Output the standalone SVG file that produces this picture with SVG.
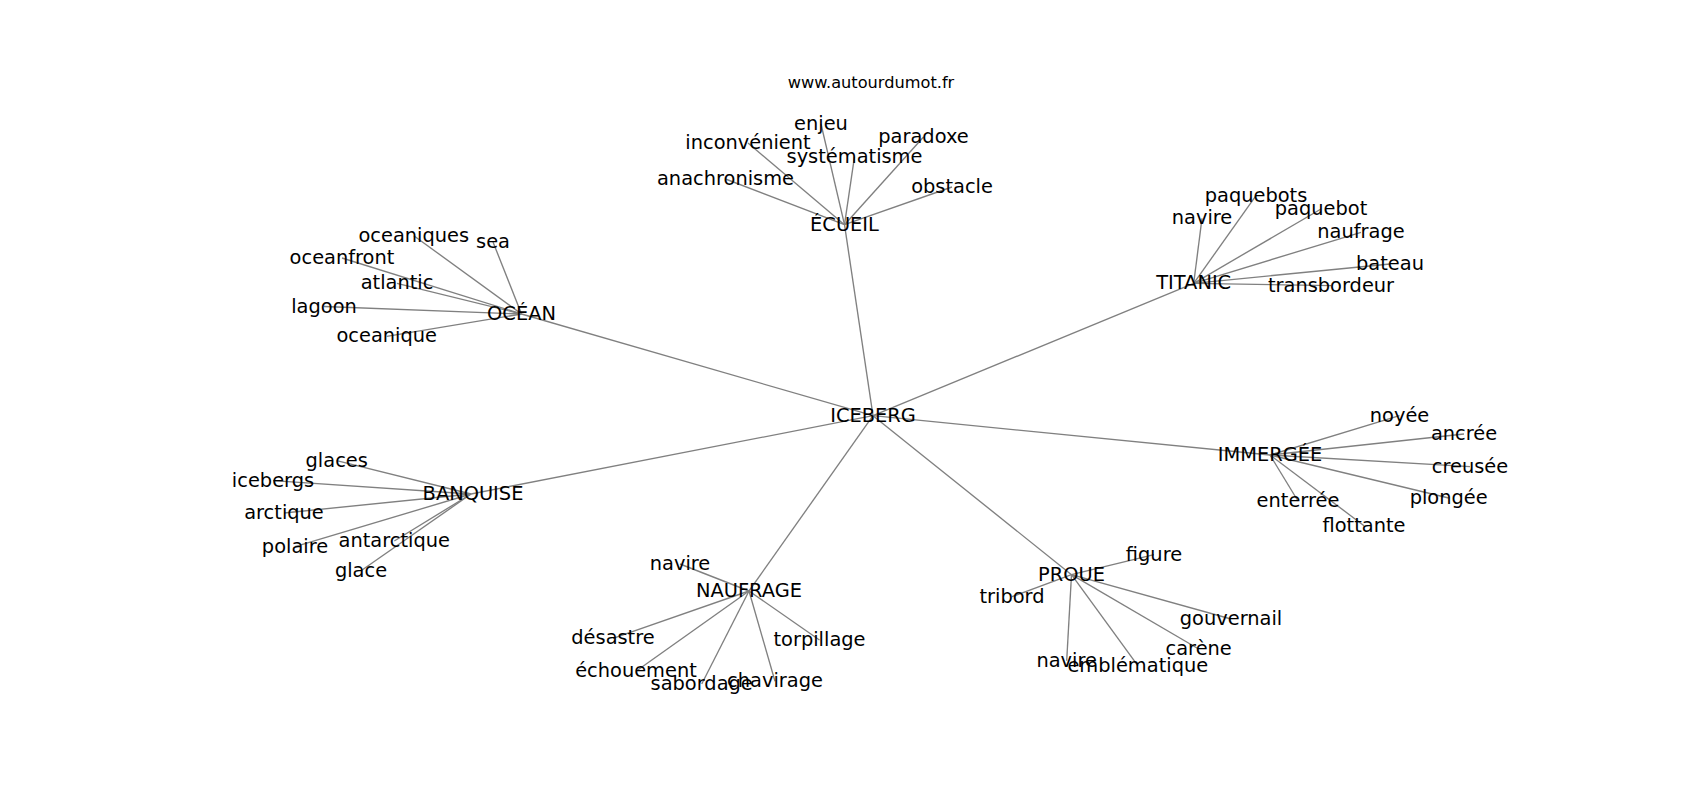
<svg xmlns="http://www.w3.org/2000/svg" width="1700" height="800" viewBox="0 0 1700 800">
<style>
.e{stroke:#808080;stroke-width:1.35;fill:none}
.l{font-family:"DejaVu Sans","Liberation Sans",sans-serif;font-size:19.4px;fill:#000;text-anchor:middle}
.t{font-family:"DejaVu Sans","Liberation Sans",sans-serif;font-size:16.2px;fill:#000;text-anchor:middle}
</style>
<rect width="1700" height="800" fill="#fff"/>
<text class="t" x="871" y="88">www.autourdumot.fr</text>
<g id="connectors">
<line class="e" x1="873" y1="415.7" x2="844.5" y2="224.7"/>
<line class="e" x1="873" y1="415.7" x2="521.5" y2="314"/>
<line class="e" x1="873" y1="415.7" x2="1193.7" y2="283.3"/>
<line class="e" x1="873" y1="415.7" x2="1270" y2="455"/>
<line class="e" x1="873" y1="415.7" x2="471" y2="494"/>
<line class="e" x1="873" y1="415.7" x2="749" y2="591"/>
<line class="e" x1="873" y1="415.7" x2="1071.5" y2="574.7"/>
<line class="e" x1="844.5" y1="224.7" x2="821" y2="124"/>
<line class="e" x1="844.5" y1="224.7" x2="748" y2="143"/>
<line class="e" x1="844.5" y1="224.7" x2="854.5" y2="156.7"/>
<line class="e" x1="844.5" y1="224.7" x2="923.5" y2="137"/>
<line class="e" x1="844.5" y1="224.7" x2="725.5" y2="179"/>
<line class="e" x1="844.5" y1="224.7" x2="952" y2="187"/>
<line class="e" x1="521.5" y1="314" x2="413.8" y2="235.7"/>
<line class="e" x1="521.5" y1="314" x2="493" y2="242"/>
<line class="e" x1="521.5" y1="314" x2="342" y2="258"/>
<line class="e" x1="521.5" y1="314" x2="397" y2="283.3"/>
<line class="e" x1="521.5" y1="314" x2="324" y2="306.5"/>
<line class="e" x1="521.5" y1="314" x2="386.7" y2="336.3"/>
<line class="e" x1="1193.7" y1="283.3" x2="1256" y2="195.7"/>
<line class="e" x1="1193.7" y1="283.3" x2="1202" y2="218.3"/>
<line class="e" x1="1193.7" y1="283.3" x2="1321" y2="209"/>
<line class="e" x1="1193.7" y1="283.3" x2="1361" y2="232.3"/>
<line class="e" x1="1193.7" y1="283.3" x2="1390" y2="264"/>
<line class="e" x1="1193.7" y1="283.3" x2="1331" y2="285.7"/>
<line class="e" x1="1270" y1="455" x2="1399.5" y2="415.7"/>
<line class="e" x1="1270" y1="455" x2="1464" y2="434"/>
<line class="e" x1="1270" y1="455" x2="1470" y2="466.7"/>
<line class="e" x1="1270" y1="455" x2="1448.7" y2="498"/>
<line class="e" x1="1270" y1="455" x2="1298" y2="501"/>
<line class="e" x1="1270" y1="455" x2="1364" y2="525.7"/>
<line class="e" x1="471" y1="494" x2="336.7" y2="460.7"/>
<line class="e" x1="471" y1="494" x2="273" y2="480.7"/>
<line class="e" x1="471" y1="494" x2="284" y2="513"/>
<line class="e" x1="471" y1="494" x2="295" y2="546.7"/>
<line class="e" x1="471" y1="494" x2="394.3" y2="541"/>
<line class="e" x1="471" y1="494" x2="361" y2="570.7"/>
<line class="e" x1="749" y1="591" x2="680" y2="564"/>
<line class="e" x1="749" y1="591" x2="613" y2="638.3"/>
<line class="e" x1="749" y1="591" x2="819.5" y2="640"/>
<line class="e" x1="749" y1="591" x2="636" y2="671.3"/>
<line class="e" x1="749" y1="591" x2="701.7" y2="684"/>
<line class="e" x1="749" y1="591" x2="775" y2="681.3"/>
<line class="e" x1="1071.5" y1="574.7" x2="1154" y2="554.7"/>
<line class="e" x1="1071.5" y1="574.7" x2="1012" y2="596.7"/>
<line class="e" x1="1071.5" y1="574.7" x2="1231" y2="619"/>
<line class="e" x1="1071.5" y1="574.7" x2="1198.7" y2="649"/>
<line class="e" x1="1071.5" y1="574.7" x2="1066.7" y2="660.7"/>
<line class="e" x1="1071.5" y1="574.7" x2="1137.8" y2="665.7"/>
</g>
<g id="n-iceberg"><text class="l" x="873" y="421.7">ICEBERG</text></g>
<g id="n-ecueil"><text class="l" x="844.5" y="230.7">ÉCUEIL</text></g>
<g id="n-ocean"><text class="l" x="521.5" y="320">OCÉAN</text></g>
<g id="n-titanic"><text class="l" x="1193.7" y="289.3">TITANIC</text></g>
<g id="n-immergee"><text class="l" x="1270" y="461">IMMERGÉE</text></g>
<g id="n-banquise"><text class="l" x="473" y="500">BANQUISE</text></g>
<g id="n-naufrage"><text class="l" x="749" y="597">NAUFRAGE</text></g>
<g id="n-proue"><text class="l" x="1071.5" y="580.7">PROUE</text></g>
<g id="n-enjeu"><text class="l" x="821" y="130">enjeu</text></g>
<g id="n-inconvenient"><text class="l" x="748" y="149">inconvénient</text></g>
<g id="n-systematisme"><text class="l" x="854.5" y="162.7">systématisme</text></g>
<g id="n-paradoxe"><text class="l" x="923.5" y="143">paradoxe</text></g>
<g id="n-anachronisme"><text class="l" x="725.5" y="185">anachronisme</text></g>
<g id="n-obstacle"><text class="l" x="952" y="193">obstacle</text></g>
<g id="n-oceaniques"><text class="l" x="413.8" y="241.7">oceaniques</text></g>
<g id="n-sea"><text class="l" x="493" y="248">sea</text></g>
<g id="n-oceanfront"><text class="l" x="342" y="264">oceanfront</text></g>
<g id="n-atlantic"><text class="l" x="397" y="289.3">atlantic</text></g>
<g id="n-lagoon"><text class="l" x="324" y="312.5">lagoon</text></g>
<g id="n-oceanique"><text class="l" x="386.7" y="342.3">oceanique</text></g>
<g id="n-paquebots"><text class="l" x="1256" y="201.7">paquebots</text></g>
<g id="n-navire-t"><text class="l" x="1202" y="224.3">navire</text></g>
<g id="n-paquebot"><text class="l" x="1321" y="215">paquebot</text></g>
<g id="n-naufrage-t"><text class="l" x="1361" y="238.3">naufrage</text></g>
<g id="n-bateau"><text class="l" x="1390" y="270">bateau</text></g>
<g id="n-transbordeur"><text class="l" x="1331" y="291.7">transbordeur</text></g>
<g id="n-noyee"><text class="l" x="1399.5" y="421.7">noyée</text></g>
<g id="n-ancree"><text class="l" x="1464" y="440">ancrée</text></g>
<g id="n-creusee"><text class="l" x="1470" y="472.7">creusée</text></g>
<g id="n-plongee"><text class="l" x="1448.7" y="504">plongée</text></g>
<g id="n-enterree"><text class="l" x="1298" y="507">enterrée</text></g>
<g id="n-flottante"><text class="l" x="1364" y="531.7">flottante</text></g>
<g id="n-glaces"><text class="l" x="336.7" y="466.7">glaces</text></g>
<g id="n-icebergs"><text class="l" x="273" y="486.7">icebergs</text></g>
<g id="n-arctique"><text class="l" x="284" y="519">arctique</text></g>
<g id="n-polaire"><text class="l" x="295" y="552.7">polaire</text></g>
<g id="n-antarctique"><text class="l" x="394.3" y="547">antarctique</text></g>
<g id="n-glace"><text class="l" x="361" y="576.7">glace</text></g>
<g id="n-navire-n"><text class="l" x="680" y="570">navire</text></g>
<g id="n-desastre"><text class="l" x="613" y="644.3">désastre</text></g>
<g id="n-torpillage"><text class="l" x="819.5" y="646">torpillage</text></g>
<g id="n-echouement"><text class="l" x="636" y="677.3">échouement</text></g>
<g id="n-sabordage"><text class="l" x="701.7" y="690">sabordage</text></g>
<g id="n-chavirage"><text class="l" x="775" y="687.3">chavirage</text></g>
<g id="n-figure"><text class="l" x="1154" y="560.7">figure</text></g>
<g id="n-tribord"><text class="l" x="1012" y="602.7">tribord</text></g>
<g id="n-gouvernail"><text class="l" x="1231" y="625">gouvernail</text></g>
<g id="n-carene"><text class="l" x="1198.7" y="655">carène</text></g>
<g id="n-navire-p"><text class="l" x="1066.7" y="666.7">navire</text></g>
<g id="n-emblematique"><text class="l" x="1137.8" y="671.7">emblématique</text></g>
</svg>
